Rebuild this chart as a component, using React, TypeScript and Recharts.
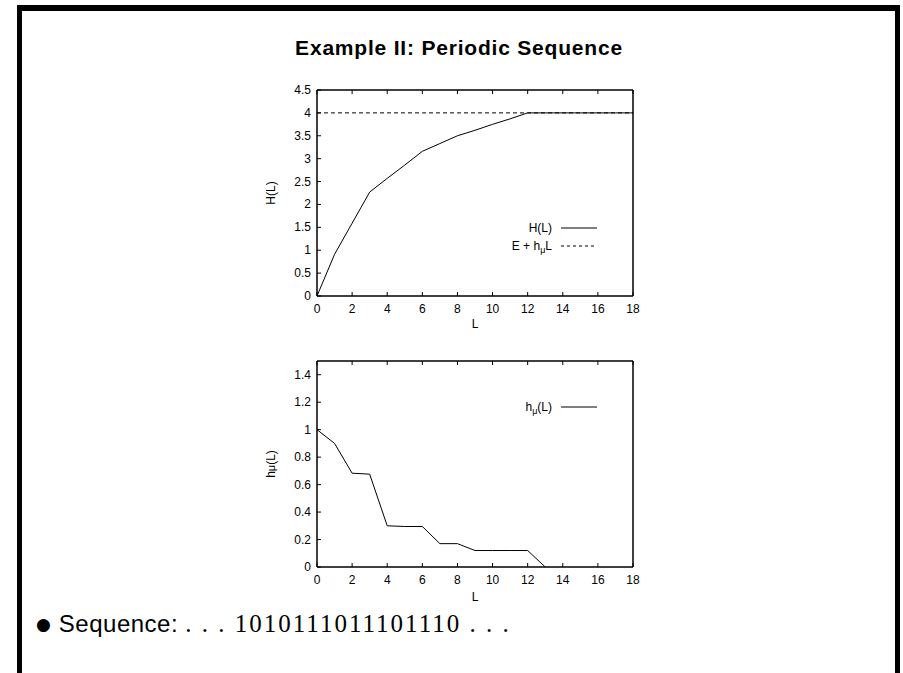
import React from 'react';
import { LineChart, Line, XAxis, YAxis, Legend } from 'recharts';

const lengths = [0, 1, 2, 3, 4, 5, 6, 7, 8, 9, 10, 11, 12, 13, 14, 15, 16, 17, 18];
const blockEntropy = [0, 0.91, 1.59, 2.27, 2.57, 2.86, 3.16, 3.33, 3.5, 3.62, 3.75, 3.87, 4, 4, 4, 4, 4, 4, 4];
const asymptote = [4, 4, 4, 4, 4, 4, 4, 4, 4, 4, 4, 4, 4, 4, 4, 4, 4, 4, 4];
const entropyRate = [1, 0.9, 0.683, 0.676, 0.3, 0.295, 0.295, 0.17, 0.17, 0.12, 0.12, 0.12, 0.12, 0, null, null, null, null, null];

const xTicks = [0, 2, 4, 6, 8, 10, 12, 14, 16, 18];
const topYTicks = [0, 0.5, 1, 1.5, 2, 2.5, 3, 3.5, 4, 4.5];
const bottomYTicks = [0, 0.2, 0.4, 0.6, 0.8, 1, 1.2, 1.4];

const topData = lengths.map((L, i) => ({ L, H: blockEntropy[i], E: asymptote[i] }));
const bottomData = lengths.map((L, i) => ({ L, h: entropyRate[i] }));

const FONT = '"Liberation Sans", Arial, Helvetica, sans-serif';
const TICK = 4;

// gnuplot-style ticks: mark points into the plot, label sits outside
const tickFor = (side: 'bottom' | 'top' | 'left' | 'right', fmt?: (v: number) => string) => (p: any) => {
  const { x, y, payload } = p;
  const label = fmt ? fmt(payload.value) : String(payload.value);
  if (side === 'bottom')
    return (
      <g>
        <line x1={x} y1={y} x2={x} y2={y - TICK} stroke="#000" />
        <text x={x} y={y + 17} textAnchor="middle" fontSize={12} fontFamily={FONT} fill="#000">{label}</text>
      </g>
    );
  if (side === 'top') return <line x1={x} y1={y} x2={x} y2={y + TICK} stroke="#000" />;
  if (side === 'left')
    return (
      <g>
        <line x1={x} y1={y} x2={x + TICK} y2={y} stroke="#000" />
        <text x={x - 6} y={y + 4} textAnchor="end" fontSize={12} fontFamily={FONT} fill="#000">{label}</text>
      </g>
    );
  return <line x1={x} y1={y} x2={x - TICK} y2={y} stroke="#000" />;
};

const Mu = ({ name }: { name: string }) => {
  const [a, b] = name.split('μ');
  if (b === undefined) return <>{name}</>;
  return (
    <>
      {a}
      <span style={{ fontSize: 9, position: 'relative', top: 3 }}>μ</span>
      {b}
    </>
  );
};

const LegendBox = ({ items }: { items: { name: string; dash?: string }[] }) => (
  <div style={{ fontFamily: FONT, fontSize: 12, color: '#000' }}>
    {items.map((it) => (
      <div key={it.name} style={{ display: 'flex', justifyContent: 'flex-end', alignItems: 'center', height: 18 }}>
        <span><Mu name={it.name} /></span>
        <svg width={36} height={6} style={{ marginLeft: 9 }}>
          <line x1={0} y1={3} x2={36} y2={3} stroke="#000" strokeDasharray={it.dash} />
        </svg>
      </div>
    ))}
  </div>
);

const YLabel = ({ text, viewBox }: any) => {
  const cx = 31;
  const cy = viewBox.y + viewBox.height / 2;
  const [a, b] = text.split('μ');
  return (
    <text
      x={cx}
      y={cy}
      transform={`rotate(-90, ${cx}, ${cy})`}
      textAnchor="middle"
      dominantBaseline="central"
      fontSize={12}
      fontFamily={FONT}
      fill="#000"
    >
      {b === undefined ? text : (
        <>
          {a}
          <tspan fontSize={11}>μ</tspan>
          {b}
        </>
      )}
    </text>
  );
};

const axisLine = { stroke: '#000', strokeWidth: 1.5 };
const fmtNum = (v: number) => String(Math.round(v * 10) / 10);

// margins leave 1px for the mirrored top/right axes so the plot box stays put
const chartMargin = { top: 9, right: 16, bottom: 0, left: 0 };

const App = () => {
  return (
    <div style={{ position: 'fixed', left: 0, top: 0, width: 903, height: 673, background: '#fff', overflow: 'hidden' }}>
      {/* slide frame */}
      <div style={{ position: 'absolute', left: 17, top: 5, width: 884 - 17 + 16, height: 700, borderTop: '6px solid #000', borderLeft: '5px solid #000', borderRight: '5px solid #000', boxSizing: 'border-box' }} />
      <div style={{ position: 'absolute', left: 0, width: 918, top: 36, textAlign: 'center', fontFamily: FONT, fontWeight: 'bold', fontSize: 21, letterSpacing: 0.8 }}>
        Example II: Periodic Sequence
      </div>

      <div style={{ position: 'absolute', left: 240, top: 80 }}>
        <LineChart width={410} height={270} data={topData} margin={chartMargin}>
          <XAxis dataKey="L" type="number" domain={[0, 18]} ticks={xTicks} interval={0} height={54} tickSize={0} tickMargin={0}
            axisLine={axisLine} tickLine={false} tick={tickFor('bottom')}
            label={{ value: 'L', position: 'insideBottom', offset: 22, fontSize: 12, fontFamily: FONT, fill: '#000' }} />
          <XAxis xAxisId="m" orientation="top" dataKey="L" type="number" domain={[0, 18]} ticks={xTicks} interval={0} height={1}
            tickSize={0} tickMargin={0} axisLine={axisLine} tickLine={false} tick={tickFor('top')} />
          <YAxis type="number" domain={[0, 4.5]} ticks={topYTicks} interval={0} width={77} tickSize={0} tickMargin={0}
            axisLine={axisLine} tickLine={false} tick={tickFor('left', fmtNum)}
            label={<YLabel text="H(L)" />} />
          <YAxis yAxisId="m" orientation="right" type="number" domain={[0, 4.5]} ticks={topYTicks} interval={0} width={1}
            tickSize={0} tickMargin={0} axisLine={axisLine} tickLine={false} tick={tickFor('right')} />
          <Line dataKey="E" stroke="#000" strokeWidth={1} strokeDasharray="4 3" dot={false} isAnimationActive={false} />
          <Line dataKey="H" stroke="#000" strokeWidth={1} dot={false} isAnimationActive={false} />
          <Legend
            layout="vertical"
            align="center"
            verticalAlign="middle"
            content={() => <LegendBox items={[{ name: 'H(L)' }, { name: 'E + hμL', dash: '3 3' }]} />}
            wrapperStyle={{ left: 200, top: 139, width: 157, bottom: 'auto' }}
          />
        </LineChart>
      </div>

      <div style={{ position: 'absolute', left: 240, top: 351 }}>
        <LineChart width={410} height={270} data={bottomData} margin={chartMargin}>
          <XAxis dataKey="L" type="number" domain={[0, 18]} ticks={xTicks} interval={0} height={54} tickSize={0} tickMargin={0}
            axisLine={axisLine} tickLine={false} tick={tickFor('bottom')}
            label={{ value: 'L', position: 'insideBottom', offset: 20, fontSize: 12, fontFamily: FONT, fill: '#000' }} />
          <XAxis xAxisId="m" orientation="top" dataKey="L" type="number" domain={[0, 18]} ticks={xTicks} interval={0} height={1}
            tickSize={0} tickMargin={0} axisLine={axisLine} tickLine={false} tick={tickFor('top')} />
          <YAxis type="number" domain={[0, 1.5]} ticks={bottomYTicks} interval={0} width={77} tickSize={0} tickMargin={0}
            axisLine={axisLine} tickLine={false} tick={tickFor('left', fmtNum)}
            label={<YLabel text="hμ(L)" />} />
          <YAxis yAxisId="m" orientation="right" type="number" domain={[0, 1.5]} ticks={bottomYTicks} interval={0} width={1}
            tickSize={0} tickMargin={0} axisLine={axisLine} tickLine={false} tick={tickFor('right')} />
          <Line dataKey="h" stroke="#000" strokeWidth={1} dot={false} connectNulls={false} isAnimationActive={false} />
          <Legend
            layout="vertical"
            align="center"
            verticalAlign="middle"
            content={() => <LegendBox items={[{ name: 'hμ(L)' }]} />}
            wrapperStyle={{ left: 200, top: 47, width: 157, bottom: 'auto' }}
          />
        </LineChart>
      </div>

      <div style={{ position: 'absolute', left: 36, top: 610, fontSize: 24, whiteSpace: 'nowrap', color: '#000' }}>
        <span style={{ fontFamily: '"DejaVu Sans", sans-serif', fontSize: 17, marginRight: 8, position: 'relative', top: -2 }}>●</span>
        <span style={{ fontFamily: FONT, letterSpacing: 0.5 }}>Sequence: </span>
        <span style={{ fontFamily: '"Liberation Serif", "DejaVu Serif", serif', fontSize: 25, letterSpacing: 2 }}>. . . 1010111011101110 . . .</span>
      </div>
    </div>
  );
};

export default App;
